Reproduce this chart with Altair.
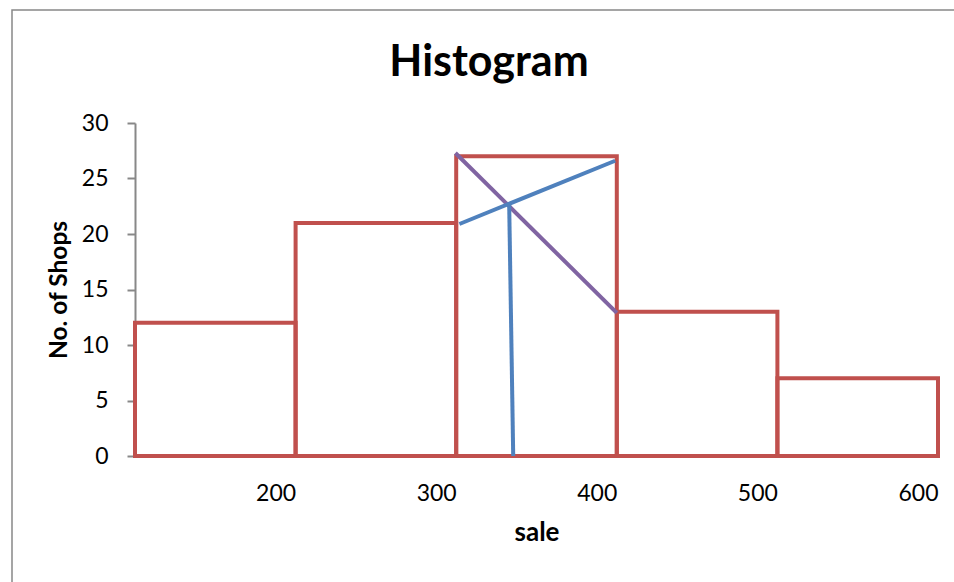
import altair as alt
import pandas as pd

# Histogram data
bin_start = [100, 200, 300, 400, 500]
bin_end = [200, 300, 400, 500, 600]
shops = [12, 21, 27, 13, 7]

# Mode construction lines
purple_x = [299.5, 400]
purple_y = [27.3, 12.9]
blue_x = [302, 399]
blue_y = [20.9, 26.6]
vert_x = [333, 335.5]
vert_y = [22.6, 0]

x_ticks = [200, 300, 400, 500, 600]
y_ticks = [0, 5, 10, 15, 20, 25, 30]
chart_title = ["Histogram"]

FONT = "Lato"
W, H = 803, 333

bars_df = pd.DataFrame({"start": bin_start, "end": bin_end, "count": shops})
purple_df = pd.DataFrame({"x": purple_x, "y": purple_y})
blue_df = pd.DataFrame({"x": blue_x, "y": blue_y})
vert_df = pd.DataFrame({"x": vert_x, "y": vert_y})
title_df = pd.DataFrame({"t": chart_title})

xs = alt.Scale(domain=[100, 600], nice=False, zero=False)
ys = alt.Scale(domain=[0, 30], nice=False)

xaxis = alt.Axis(values=x_ticks, title="sale", labelAlign="right", ticks=False,
                 labelPadding=26, labelFontSize=23, labelFont=FONT, labelColor="#000",
                 titleFont=FONT, titleFontSize=26, titleFontWeight="bold", titleColor="#000",
                 titlePadding=14, domainColor="#888", domainWidth=2, grid=False)
yaxis = alt.Axis(values=y_ticks, title="No. of Shops", tickSize=8, tickColor="#888",
                 tickWidth=2, labelPadding=19, labelFontSize=23, labelFont=FONT,
                 labelColor="#000", titleFont=FONT, titleFontSize=24.5, titleFontWeight="bold",
                 titleColor="#000", titlePadding=10, domainColor="#888", domainWidth=2, grid=False)

frame = alt.Chart(pd.DataFrame({"a": [0]})).mark_rect(
    fillOpacity=0, stroke="#888", strokeWidth=1.5, clip=False
).encode(x=alt.value(-123), x2=alt.value(W + 30), y=alt.value(-113), y2=alt.value(H + 140))

title = alt.Chart(title_df).mark_text(
    font=FONT, fontSize=43, fontWeight="bold", color="#000", align="center",
    baseline="alphabetic", clip=False
).encode(text="t:N", x=alt.value(489 - 135), y=alt.value(76 - 123))

bars = alt.Chart(bars_df).mark_rect(
    fillOpacity=0, stroke="#C0504D", strokeWidth=4
).encode(
    x=alt.X("start:Q", scale=xs, axis=xaxis),
    x2="end:Q",
    y=alt.Y("count:Q", scale=ys, axis=yaxis),
    y2=alt.datum(0),
)

purple = alt.Chart(purple_df).mark_line(color="#8064A2", strokeWidth=4).encode(
    x=alt.X("x:Q", scale=xs), y=alt.Y("y:Q", scale=ys))
blue = alt.Chart(blue_df).mark_line(color="#4F81BD", strokeWidth=4).encode(
    x=alt.X("x:Q", scale=xs), y=alt.Y("y:Q", scale=ys))
vert = alt.Chart(vert_df).mark_line(color="#4F81BD", strokeWidth=4).encode(
    x=alt.X("x:Q", scale=xs), y=alt.Y("y:Q", scale=ys))

chart = alt.layer(frame, title, bars, purple, blue, vert).properties(
    width=W, height=H,
    background="white",
    autosize=alt.AutoSizeParams(type="none"),
    padding={"left": 135, "top": 123, "right": 16, "bottom": 126},
).configure_view(stroke=None)

chart.save("out.html", embed_options={"renderer": "svg", "actions": False})
